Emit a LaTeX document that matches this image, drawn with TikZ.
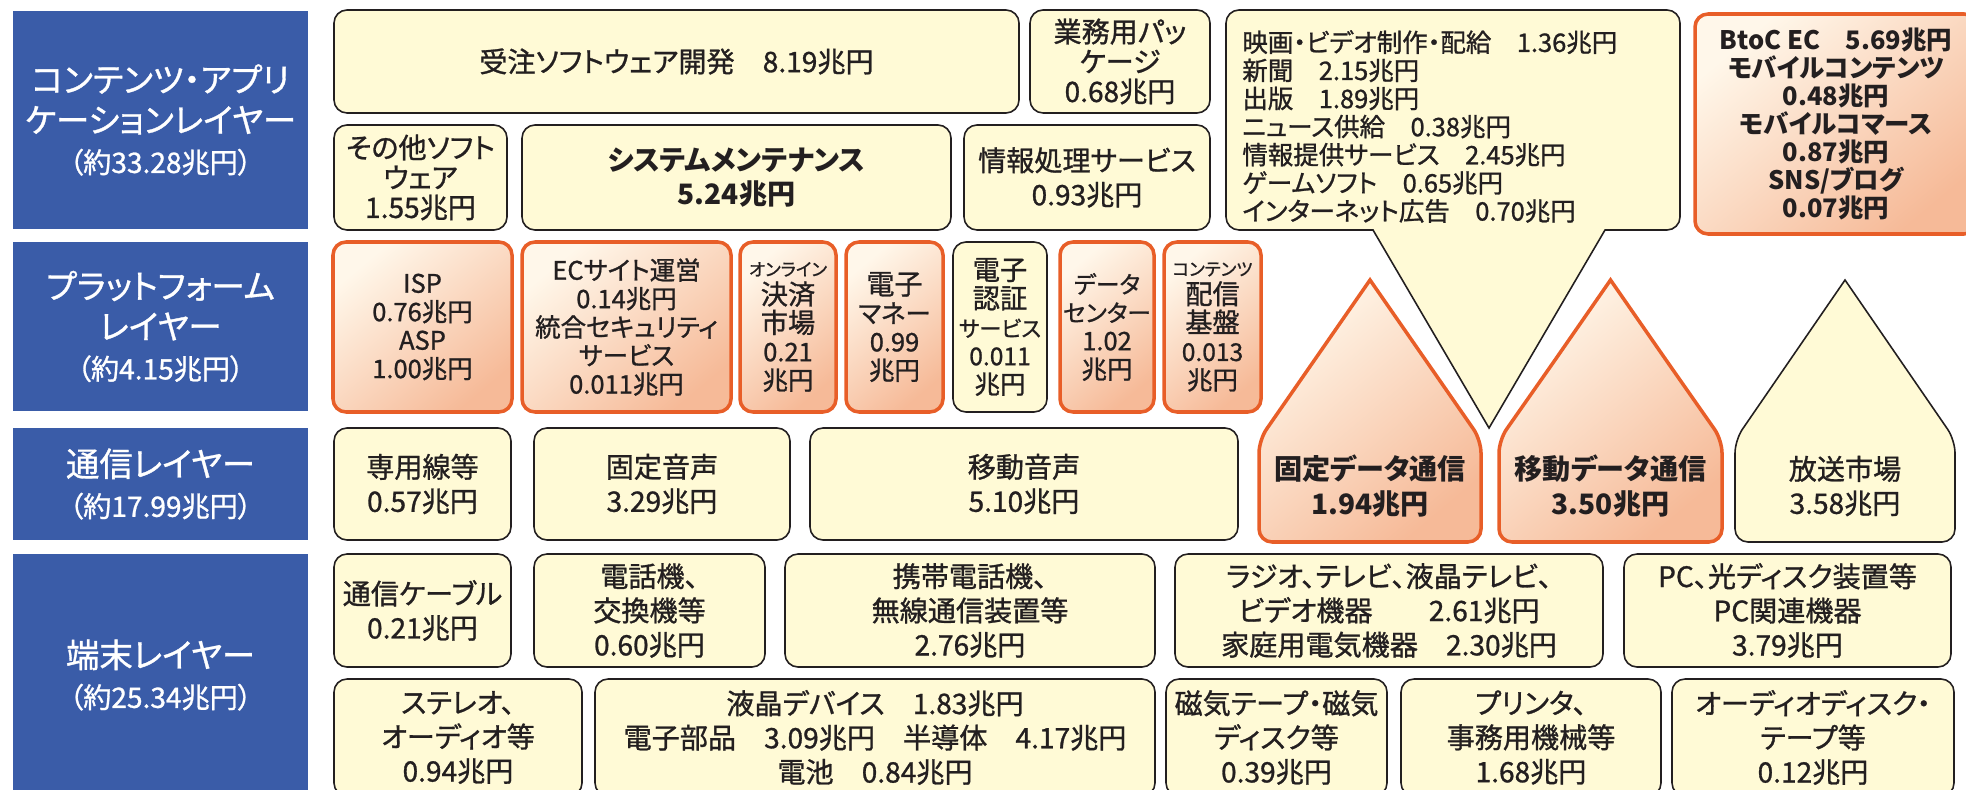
\documentclass[tikz,border=0pt]{standalone}
\usepackage{fontspec}
\setmainfont{Noto Sans CJK JP}[RawFeature=+palt, UprightFeatures={FakeBold=1.0}]
\definecolor{layerblue}{RGB}{58,92,168}
\definecolor{boxcream}{RGB}{255,250,214}
\definecolor{boxline}{RGB}{35,31,32}
\definecolor{hotline}{RGB}{232,94,40}
\definecolor{hotlight}{RGB}{255,247,234}
\definecolor{hotdark}{RGB}{246,186,152}
\tikzset{
  sz/.style 2 args={minimum width=#1*0.02cm, minimum height=#2*0.02cm},
  layer/.style={fill=layerblue, text=white, align=center, inner sep=0pt, font=\fontsize{19}{23}\selectfont},
  cream/.style={fill=boxcream, draw=boxline, line width=0.9pt, rounded corners=0.26cm, text=boxline, align=center, inner sep=0pt, font=\fontsize{16}{19.5}\selectfont},
  hot/.style={draw=hotline, line width=2pt, rounded corners=0.26cm, top color=hotlight, bottom color=hotdark, shading angle=40, text=boxline, align=center, inner sep=0pt, font=\fontsize{16}{19.5}\selectfont},
  plat/.style={font=\fontsize{14.5}{16.2}\selectfont},
  tight/.style={font=\fontsize{14.5}{16}\selectfont},
  small3/.style={font=\fontsize{16}{17}\selectfont},
  txt/.style={align=center, inner sep=0pt, text=boxline}
}

\begin{document}
\begin{tikzpicture}[x=0.02cm, y=-0.02cm]
  \useasboundingbox (0,0) rectangle (1966,790);
  \fill[white] (0,0) rectangle (1966,790);

  % Layer labels
  \node[layer, sz={295}{218}] (lay1) at (160.5,120) {コンテンツ・アプリ\\ケーションレイヤー\\{\fontsize{16}{17}\selectfont（約33.28兆円）}};
  \node[layer, sz={295}{169}] (lay2) at (160.5,326.5) {プラットフォーム\\レイヤー\\{\fontsize{16}{17}\selectfont（約4.15兆円）}};
  \node[layer, sz={295}{112}] (lay3) at (160.5,484) {通信レイヤー\\{\fontsize{16}{17}\selectfont（約17.99兆円）}};
  \node[layer, sz={295}{242}] (lay4) at (160.5,675) {端末レイヤー\\{\fontsize{16}{17}\selectfont（約25.34兆円）}};

  % Contents and application layer
  \node[cream, sz={685}{103}] (juchu) at (676.5,61.5) {受注ソフトウェア開発　8.19兆円};
  \node[cream, small3, sz={180}{103}] (gyomu) at (1120,61.5) {業務用パッ\\ケージ\\0.68兆円};
  \node[cream, small3, sz={173}{105}] (sonota) at (420.5,177.5) {その他ソフト\\ウェア\\1.55兆円};
  \node[cream, sz={429}{105}, font=\fontsize{16}{19.5}\selectfont\bfseries] (sysmnt) at (736.5,177.5) {システムメンテナンス\\5.24兆円};
  \node[cream, sz={246}{105}] (joho) at (1087,177.5) {情報処理サービス\\0.93兆円};
  \draw[cream] (1226,120) -- (1226,10) -- (1680,10) -- (1680,230) -- (1640,230) [sharp corners] -- (1605,230) -- (1489,428) -- (1373,230) -- (1300,230) [rounded corners=0.26cm] -- (1226,230) -- cycle;
  \node[txt, anchor=west, align=left, tight] (media) at (1242,126.5) {映画・ビデオ制作・配給　1.36兆円\\新聞　2.15兆円\\出版　1.89兆円\\ニュース供給　0.38兆円\\情報提供サービス　2.45兆円\\ゲームソフト　0.65兆円\\インターネット広告　0.70兆円};
  \node[hot, sz={282}{220}, font=\fontsize{14.5}{16}\selectfont\bfseries] (btoc) at (1836,124) {BtoC EC　5.69兆円\\モバイルコンテンツ\\0.48兆円\\モバイルコマース\\0.87兆円\\SNS/ブログ\\0.07兆円};

  % Platform layer
  \node[hot, plat, sz={179}{170}] (isp) at (422.5,327) {ISP\\0.76兆円\\ASP\\1.00兆円};
  \node[hot, plat, sz={209}{170}] (ecsite) at (626.5,327) {ECサイト運営\\0.14兆円\\統合セキュリティ\\サービス\\0.011兆円};
  \node[hot, plat, sz={96}{170}] (online) at (788,327) {{\fontsize{10}{11}\selectfont オンライン}\\{\fontsize{15.5}{16}\selectfont 決済}\\{\fontsize{15.5}{16}\selectfont 市場}\\0.21\\兆円};
  \node[hot, plat, sz={97}{170}] (emoney) at (894.5,327) {{\fontsize{16}{17}\selectfont 電子}\\マネー\\0.99\\兆円};
  \node[cream, plat, sz={94}{170}] (ecert) at (1000,327) {{\fontsize{15.5}{16}\selectfont 電子}\\{\fontsize{15.5}{16}\selectfont 認証}\\{\fontsize{12.5}{14}\selectfont サービス}\\{\fontsize{14}{15}\selectfont 0.011}\\兆円};
  \node[hot, plat, sz={94}{170}] (dcenter) at (1107,327) {{\fontsize{13.5}{15}\selectfont データ}\\{\fontsize{13.5}{15}\selectfont センター}\\1.02\\兆円};
  \node[hot, plat, sz={97}{170}] (cdn) at (1212.5,327) {{\fontsize{10}{11}\selectfont コンテンツ}\\{\fontsize{15.5}{16}\selectfont 配信}\\{\fontsize{15.5}{16}\selectfont 基盤}\\{\fontsize{14}{15}\selectfont 0.013}\\兆円};

  % Network layer
  \node[cream, sz={177}{112}] (senyo) at (422.5,484) {専用線等\\0.57兆円};
  \node[cream, sz={256}{112}] (koteiv) at (662,484) {固定音声\\3.29兆円};
  \node[cream, sz={428}{112}] (idov) at (1024,484) {移動音声\\5.10兆円};
  \draw[hot] (1370,542) -- (1481,542) -- (1481,440) -- (1425.5,360) [sharp corners] -- (1370,280) -- (1314.5,360) [rounded corners=0.26cm] -- (1259,440) -- (1259,542) -- cycle;
  \node[txt, font=\fontsize{16}{19.5}\selectfont\bfseries] (koteid) at (1370,486) {固定データ通信\\1.94兆円};
  \draw[hot] (1610.5,542) -- (1722,542) -- (1722,440) -- (1666,360) [sharp corners] -- (1610.5,280) -- (1555,360) [rounded corners=0.26cm] -- (1499,440) -- (1499,542) -- cycle;
  \node[txt, font=\fontsize{16}{19.5}\selectfont\bfseries] (idod) at (1610.5,486) {移動データ通信\\3.50兆円};
  \draw[cream] (1845,542) -- (1955,542) -- (1955,440) -- (1900,360) [sharp corners] -- (1845,280) -- (1790,360) [rounded corners=0.26cm] -- (1735,440) -- (1735,542) -- cycle;
  \node[txt, font=\fontsize{16}{19.5}\selectfont] (hoso) at (1845,486) {放送市場\\3.58兆円};

  % Terminal layer
  \node[cream, sz={177}{113}] (cable) at (422.5,610.5) {通信ケーブル\\0.21兆円};
  \node[cream, sz={231}{113}] (phone) at (649.5,610.5) {電話機、\\交換機等\\0.60兆円};
  \node[cream, sz={370}{113}] (mobile) at (970,610.5) {携帯電話機、\\無線通信装置等\\2.76兆円};
  \node[cream, sz={428}{113}] (radio) at (1389,610.5) {ラジオ、テレビ、液晶テレビ、\\ビデオ機器　　2.61兆円\\家庭用電気機器　2.30兆円};
  \node[cream, sz={327}{113}] (pcdev) at (1787.5,610.5) {PC、光ディスク装置等\\PC関連機器\\3.79兆円};
  \node[cream, sz={248}{117}] (stereo) at (458,737.5) {ステレオ、\\オーディオ等\\0.94兆円};
  \node[cream, sz={560}{117}] (lcd) at (875,737.5) {液晶デバイス　1.83兆円\\電子部品　3.09兆円　半導体　4.17兆円\\電池　0.84兆円};
  \node[cream, sz={221}{117}] (magdisk) at (1276.5,737.5) {磁気テープ・磁気\\ディスク等\\0.39兆円};
  \node[cream, sz={260}{117}] (printer) at (1531,737.5) {プリンタ、\\事務用機械等\\1.68兆円};
  \node[cream, sz={282}{117}] (audiodisk) at (1813,737.5) {オーディオディスク・\\テープ等\\0.12兆円};
\end{tikzpicture}
\end{document}
